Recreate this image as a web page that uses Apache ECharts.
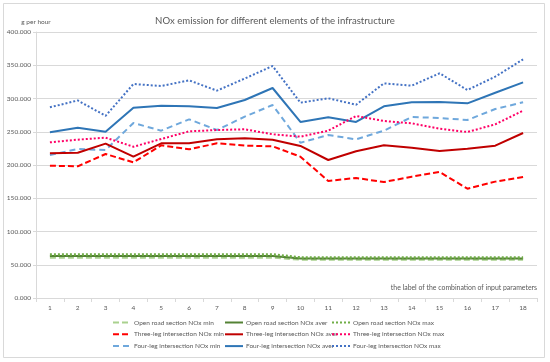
<!DOCTYPE html>
<html><head><meta charset="utf-8">
<script src="https://cdn.jsdelivr.net/npm/echarts@6/dist/echarts.min.js"></script>
<style>html,body{margin:0;padding:0;background:#fff}#c{width:550px;height:362px}</style>
</head><body><div id="c"></div>
<script>
var categories = ['1','2','3','4','5','6','7','8','9','10','11','12','13','14','15','16','17','18'];
var openMin = [61,61,61,61,61,61,61,61,61,58,58,58,58,58,58,58,58,58];
var openAver = [63,63,63,63,63,63,63,63,63,59.5,59.5,59.5,59.5,59.5,59.5,59.5,59.5,59.5];
var openMax = [65.5,65.5,65.5,65.5,65.5,65.5,65.5,65.5,65.5,61,61,61,61,61,61,61,61,61];
var threeMin = [199,198,216.5,204,229.6,223.6,232.6,229.1,228.1,212.5,176,180.5,174.4,182.4,189.5,164.4,175,182];
var threeAver = [217.6,218.5,232.1,212.5,232.6,232.6,238.6,240.1,238.1,228.6,207.5,220.6,229.6,226.1,221.1,224.6,229.1,248.1];
var threeMax = [234.1,238.1,241.1,227.5,239.1,250.6,252.6,253.7,246.2,242.6,251.6,273.7,266.2,262.7,254.6,249.6,261.2,281.7];
var fourMin = [215,224,222.5,263.2,251.6,268.7,252.6,272.7,290.2,233.5,245.1,238.6,251.6,272.2,270.7,267.7,284.2,294.3];
var fourAver = [249.2,256.1,250.1,286.2,289.2,288.2,285.7,297.8,315.8,264.7,271.7,264.7,288.2,294.3,294.7,292.7,308.7,324.3];
var fourMax = [286.8,297,274,321.8,318.8,327.3,311.8,330,348.9,293.7,300.3,290.7,322.8,319.3,337.9,312.8,332.8,358.9];

var names = {
  oMin:'Open road section NOx min', oAv:'Open road section NOx aver', oMax:'Open road section NOx max',
  tMin:'Three-leg intersection NOx min', tAv:'Three-leg intersection NOx aver', tMax:'Three-leg intersection NOx max',
  fMin:'Four-leg intersection NOx min', fAv:'Four-leg intersection NOx aver', fMax:'Four-leg intersection NOx max'
};
function s(name, data, color, type, width, z){
  return {name:name, type:'line', data:data, symbol:'none', showSymbol:false, smooth:false, z:z||2,
    lineStyle:{color:color, width:width, type:type}, itemStyle:{color:color}, emphasis:{disabled:true}};
}
var font = 'Lato, Carlito, "Open Sans", sans-serif';
var small = 6.5;
function leg(left, data){
  return {orient:'vertical', top:319, left:left, itemWidth:18, itemHeight:8, itemGap:4.8, padding:0,
    textStyle:{fontSize:small, color:'#595959', fontFamily:font, padding:[0,0,0,-2]},
    itemStyle:{opacity:0}, selectedMode:false, data:data};
}
var chart = echarts.init(document.getElementById('c'), null, {renderer:'canvas'});
chart.setOption({
  animation:false,
  backgroundColor:'#fff',
  textStyle:{fontFamily:font},
  title:{text:'NOx emission for different elements of the infrastructure', left:'center', top:11,
    textStyle:{fontSize:9.6, fontWeight:'normal', color:'#595959', fontFamily:font}},
  grid:{left:36, right:13, top:32, bottom:64, containLabel:false},
  legend:[
    leg(112, [names.oMin, names.tMin, names.fMin]),
    leg(224, [names.oAv, names.tAv, names.fAv]),
    leg(331, [names.oMax, names.tMax, names.fMax])
  ],
  xAxis:{type:'category', data:categories, boundaryGap:true,
    axisLine:{show:true, lineStyle:{color:'#d9d9d9', width:1}},
    axisTick:{show:true, length:4, lineStyle:{color:'#d9d9d9'}},
    axisLabel:{fontSize:small, color:'#595959', margin:6, fontFamily:font},
    splitLine:{show:false}},
  yAxis:{type:'value', min:0, max:400, interval:50, name:'g per hour', nameLocation:'end', nameGap:7,
    nameTextStyle:{fontSize:small, color:'#595959', align:'center', fontFamily:font},
    axisLine:{show:true, lineStyle:{color:'#d9d9d9'}},
    axisTick:{show:true, length:3, lineStyle:{color:'#d9d9d9'}},
    axisLabel:{fontSize:small, color:'#595959', margin:5, fontFamily:font,
      formatter:function(v){return v.toFixed(3);}},
    splitLine:{show:true, lineStyle:{color:'#d9d9d9', width:1}}},
  graphic:[
    {type:'rect', shape:{x:3.5, y:3.5, width:541, height:354}, style:{fill:null, stroke:'#d9d9d9', lineWidth:1}, silent:true, z:-1},
    {type:'text', right:13, top:284, style:{text:'the label of the combination of input parameters', fontSize:6.9, fill:'#595959', fontFamily:font}}
  ],
  series:[
    s(names.oMin, openMin, '#a9d18e', [6,3], 2.5, 3),
    s(names.tMin, threeMin, '#ff0000', [6,3], 2, 3),
    s(names.fMin, fourMin, '#6fa8dc', [6,4], 2, 3),
    s(names.oAv, openAver, '#548235', 'solid', 2, 4),
    s(names.tAv, threeAver, '#c00000', 'solid', 2, 4),
    s(names.fAv, fourAver, '#2e75b6', 'solid', 2, 4),
    s(names.oMax, openMax, '#70ad47', [2,2], 2.5, 5),
    s(names.tMax, threeMax, '#ff0066', [2,2], 2, 5),
    s(names.fMax, fourMax, '#4472c4', [2,2], 2, 5)
  ]
});
</script></body></html>
